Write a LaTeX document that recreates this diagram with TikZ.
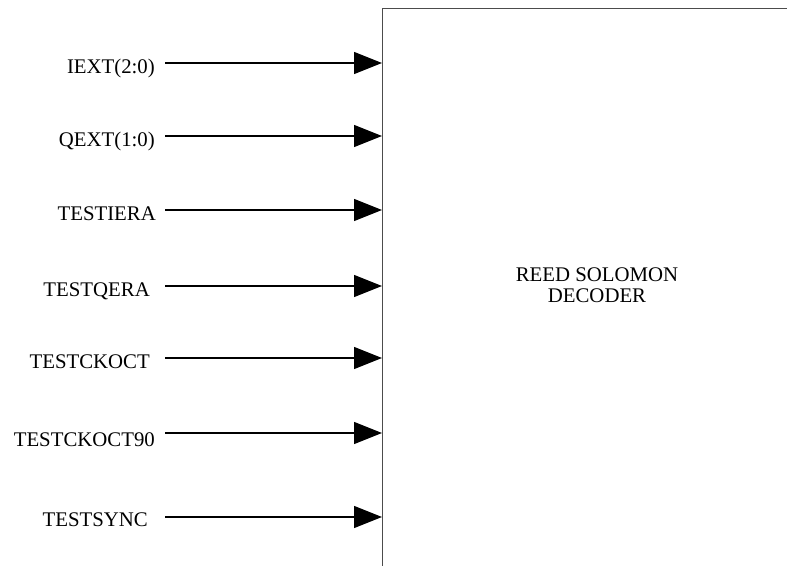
\documentclass[tikz,border=0pt]{standalone}
\usepackage{fontspec}
\setmainfont{Liberation Serif}
\usetikzlibrary{arrows.meta}

\begin{document}
\begin{tikzpicture}[x=1pt, y=-1pt,
        sig/.style={font=\fontsize{20.8}{21}\selectfont, anchor=east, inner sep=0pt},
        wire/.style={line width=1.2pt, -{Triangle[length=28pt, width=22pt]}}]
                \useasboundingbox (0, 0) rectangle (787, 565);
                \clip (0, 0) rectangle (787, 565);
                \node[draw=black!70, line width=1.4pt, minimum width=520pt, minimum height=620pt, anchor=north west, inner sep=0pt] (rs) at (382, 8) {};
                \node[font=\fontsize{20.8}{21}\selectfont, align=center] (rstext) at (597, 285) {REED SOLOMON\\DECODER};

                \node[sig] (iext) at (155, 68){IEXT(2:0)};
                \node[sig] (qext) at (155, 141){QEXT(1:0)};
                \node[sig] (tiera) at (156, 214){TESTIERA};
                \node[sig] (tqera) at (150, 291){TESTQERA};
                \node[sig] (tckoct) at (150, 362){TESTCKOCT};
                \node[sig] (tckoct90) at (155, 440){TESTCKOCT90};
                \node[sig] (tsync) at (148, 520){TESTSYNC};

                \coordinate (a1) at (165, 63);
                \coordinate (a2) at (165, 136);
                \coordinate (a3) at (165, 210);
                \coordinate (a4) at (165, 286);
                \coordinate (a5) at (165, 358);
                \coordinate (a6) at (165, 433);
                \coordinate (a7) at (165, 517);

                \draw[wire] (a1) -- (rs.west |- a1);
                \draw[wire] (a2) -- (rs.west |- a2);
                \draw[wire] (a3) -- (rs.west |- a3);
                \draw[wire] (a4) -- (rs.west |- a4);
                \draw[wire] (a5) -- (rs.west |- a5);
                \draw[wire] (a6) -- (rs.west |- a6);
                \draw[wire] (a7) -- (rs.west |- a7);
            \end{tikzpicture}
\end{document}
